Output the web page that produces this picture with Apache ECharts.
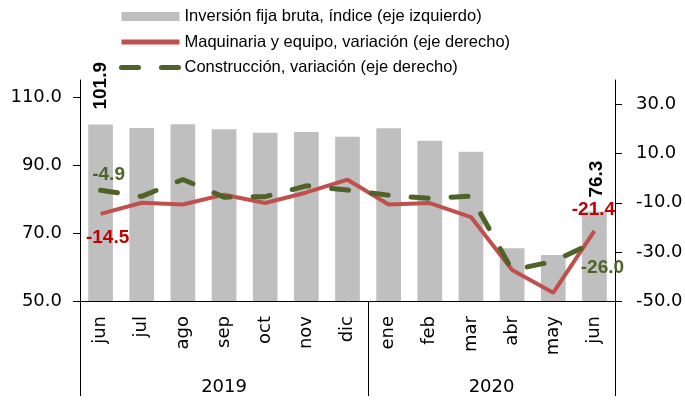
<!DOCTYPE html>
<html><head><meta charset="utf-8">
<script src="https://cdn.jsdelivr.net/npm/echarts@6/dist/echarts.min.js"></script>
<style>html,body{margin:0;padding:0;background:#fff}#c{width:685px;height:400px}</style>
</head><body><div id="c"></div>
<script>
const months = ['jun','jul','ago','sep','oct','nov','dic','ene','feb','mar','abr','may','jun'];
const years = ['2019','2020'];
const yearCounts = [7, 6];
const inversion = [101.9,100.9,102.0,100.5,99.5,99.7,98.3,100.8,97.1,93.9,65.5,63.5,76.3];
const maquinaria = [-14.5,-10.0,-10.7,-6.7,-10.1,-5.8,-0.6,-10.7,-10.1,-15.8,-37.4,-46.6,-21.4];
const construccion = [-4.9,-7.4,-0.5,-7.7,-7.5,-3.1,-4.8,-6.9,-8.2,-7.3,-37.4,-33.9,-26.0];
const leftTicks = [50,70,90,110];
const rightTicks = [-50,-30,-10,10,30];
const names = ['Inversión fija bruta, índice (eje izquierdo)','Maquinaria y equipo, variación (eje derecho)','Construcción, variación (eje derecho)'];

const yearBounds = [0];
yearCounts.forEach(c => yearBounds.push(yearBounds[yearBounds.length-1] + c));
const yearCenters = yearCounts.map((c,i) => yearBounds[i] + c/2);

const AX = {fontFamily:'DejaVu Sans', fontSize:18, color:'#000'};
const LBL = {fontFamily:'Liberation Sans', fontSize:19, fontWeight:'bold'};
const last = months.length - 1;
const fmt = p => Number(p.value).toFixed(1);

const chart = echarts.init(document.getElementById('c'), null, {renderer:'canvas'});
chart.setOption({
  animation:false,
  backgroundColor:'#fff',
  legend:{
    orient:'vertical', left:114, top:3, itemGap:8.5, itemWidth:58, itemHeight:9,
    textStyle:{fontFamily:'Liberation Sans', fontSize:16.5, color:'#000'},
    data:[{name:names[0], icon:'rect'},
          {name:names[1], itemStyle:{opacity:0}, lineStyle:{width:5}},
          {name:names[2], itemStyle:{opacity:0}, lineStyle:{width:5}}]
  },
  grid:{left:80, right:70, top:80, bottom:99, containLabel:false, outerBoundsMode:'none'},
  xAxis:[
    {type:'category', data:months, boundaryGap:true,
     axisLine:{onZero:false, lineStyle:{color:'#000', width:1}}, axisTick:{show:false},
     axisLabel:Object.assign({rotate:90, margin:15, interval:0}, AX)},
    {type:'value', min:0, max:months.length, position:'bottom',
     axisLine:{show:false, onZero:false}, splitLine:{show:false},
     axisTick:{show:true, customValues:yearBounds, length:95, lineStyle:{color:'#000', width:1}},
     axisLabel:Object.assign({customValues:yearCenters, margin:77,
       formatter:v => { const i = yearCenters.indexOf(v); return i >= 0 ? years[i] : ''; }}, AX)}
  ],
  yAxis:[
    {type:'value', min:50, max:115, position:'left',
     axisLine:{show:true, onZero:false, lineStyle:{color:'#000'}},
     axisTick:{show:true, customValues:leftTicks, length:7, lineStyle:{color:'#000'}},
     axisLabel:Object.assign({customValues:leftTicks, margin:18, formatter:v => v.toFixed(1)}, AX),
     splitLine:{show:false}},
    {type:'value', min:-50, max:40, position:'right',
     axisLine:{show:true, onZero:false, lineStyle:{color:'#000'}},
     axisTick:{show:true, customValues:rightTicks, length:7, lineStyle:{color:'#000'}},
     axisLabel:Object.assign({customValues:rightTicks, margin:21, formatter:v => v.toFixed(1)}, AX),
     splitLine:{show:false}}
  ],
  series:[
    {type:'bar', name:names[0], barWidth:'60%',
     itemStyle:{color:'#BFBFBF'},
     label:Object.assign({show:false, position:'top', rotate:90, align:'left', verticalAlign:'middle',
       distance:15, color:'#000', formatter:fmt}, LBL),
     data:inversion.map((v,i) => (i===0) ? {value:v, label:{show:true}} :
        (i===last ? {value:v, label:{show:true, distance:14, offset:[0,2]}} : v))},
    {type:'line', name:names[1], yAxisIndex:1, symbol:'circle', symbolSize:0, showSymbol:true,
     lineStyle:{color:'#C0504D', width:4}, itemStyle:{color:'#C0504D'}, z:3,
     data:maquinaria.map((v,i) => i===0 ? {value:v, label:Object.assign({show:true, position:'bottom', distance:14, offset:[7,0], color:'#C00000', formatter:fmt}, LBL)} :
       (i===last ? {value:v, label:Object.assign({show:true, position:'top', distance:12, offset:[-1,0], color:'#C00000', formatter:fmt}, LBL)} : v))},
    {type:'line', name:names[2], yAxisIndex:1, symbol:'circle', symbolSize:0, showSymbol:true,
     lineStyle:{color:'#4F6228', width:5, type:[17,23], cap:'round'}, itemStyle:{color:'#4F6228'}, z:4,
     data:construccion.map((v,i) => i===0 ? {value:v, label:Object.assign({show:true, position:'top', distance:6, offset:[8,0], color:'#4F6228', formatter:fmt}, LBL)} :
       (i===last ? {value:v, label:Object.assign({show:true, position:'bottom', distance:16, offset:[8,0], color:'#4F6228', formatter:fmt}, LBL)} : v))}
  ]
});
</script></body></html>
